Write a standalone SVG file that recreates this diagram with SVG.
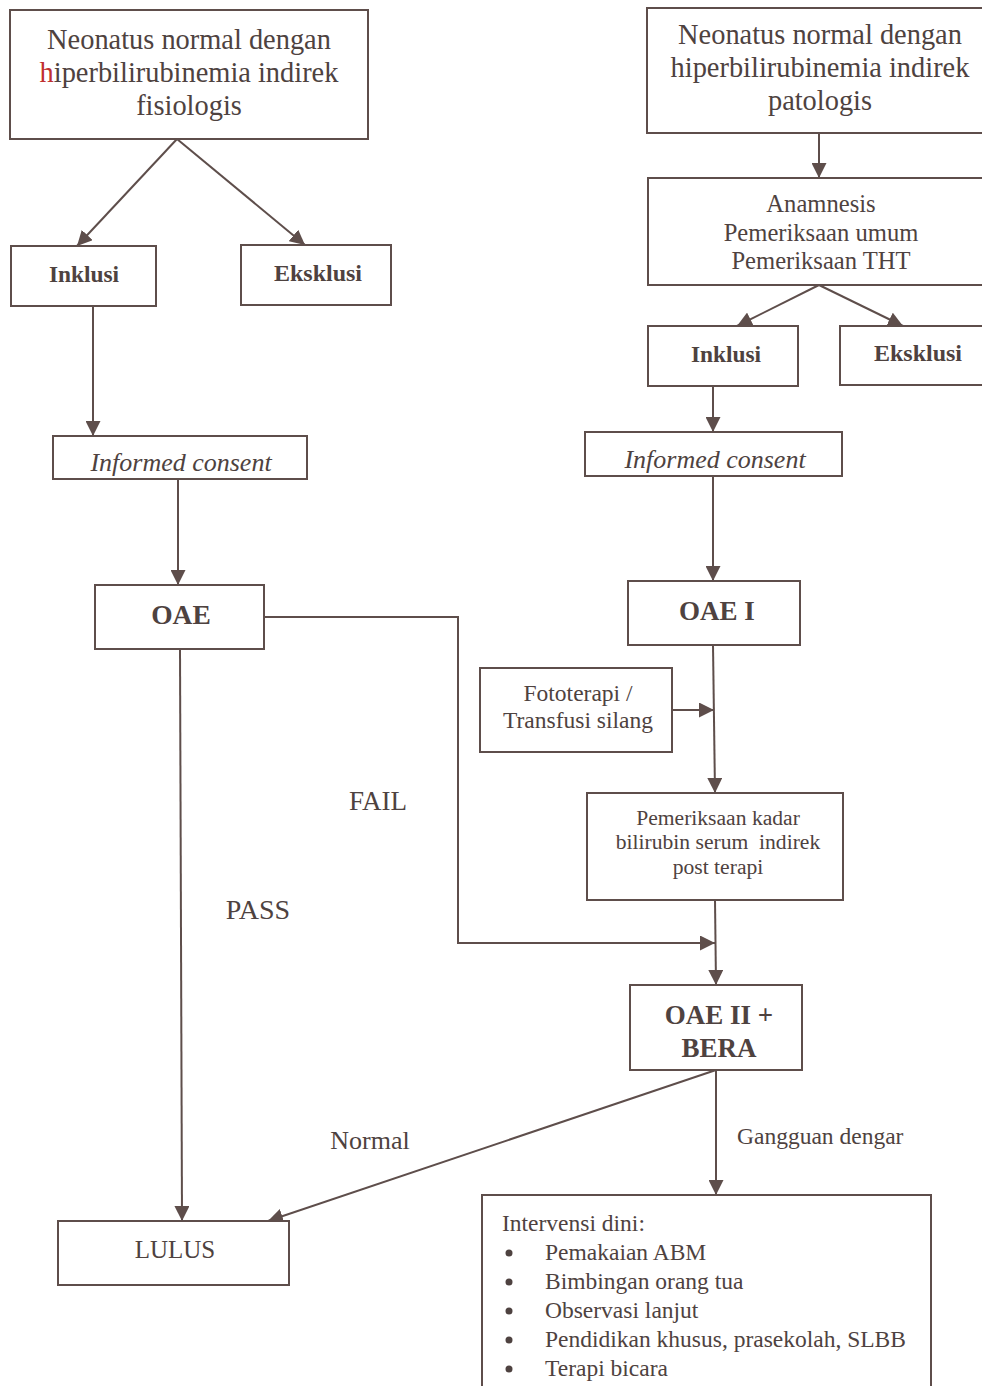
<svg xmlns="http://www.w3.org/2000/svg" width="982" height="1386" viewBox="0 0 982 1386">
<defs>
<style>
.box{fill:#fff;stroke:#5e4e4b;stroke-width:2}
.ln{fill:none;stroke:#5e4e4b;stroke-width:2}
text{font-family:"Liberation Serif","Times New Roman",serif;fill:#4e4240;text-anchor:middle}
.t28{font-size:28.4px}
.t24{font-size:24.6px}
.t23{font-size:23.5px}
.t21{font-size:21.6px}
.b{font-weight:bold}
.i{font-style:italic}
.l{text-anchor:start}
</style>
<marker id="ah2" viewBox="0 0 10 10" refX="10" refY="5" markerWidth="15" markerHeight="15" markerUnits="userSpaceOnUse" orient="auto">
<path d="M0,0 L10,5 L0,10 z" fill="#5e4e4b"/>
</marker>
</defs>
<rect width="982" height="1386" fill="#fff"/>

<g id="connectors">
<line class="ln" x1="177" y1="139" x2="77" y2="246" marker-end="url(#ah2)"/>
<line class="ln" x1="177" y1="139" x2="305" y2="245" marker-end="url(#ah2)"/>
<line class="ln" x1="93" y1="306" x2="93" y2="436" marker-end="url(#ah2)"/>
<line class="ln" x1="178" y1="479" x2="178" y2="585" marker-end="url(#ah2)"/>
<line class="ln" x1="180" y1="649" x2="182" y2="1221" marker-end="url(#ah2)"/>
<polyline class="ln" points="264,617 458,617 458,943 715,943" marker-end="url(#ah2)"/>
<line class="ln" x1="819" y1="133" x2="819" y2="178" marker-end="url(#ah2)"/>
<line class="ln" x1="819" y1="285" x2="737" y2="326" marker-end="url(#ah2)"/>
<line class="ln" x1="819" y1="285" x2="903" y2="326" marker-end="url(#ah2)"/>
<line class="ln" x1="713" y1="386" x2="713" y2="432" marker-end="url(#ah2)"/>
<line class="ln" x1="713" y1="476" x2="713" y2="581" marker-end="url(#ah2)"/>
<line class="ln" x1="713" y1="645" x2="715" y2="793" marker-end="url(#ah2)"/>
<line class="ln" x1="672" y1="710" x2="714" y2="710" marker-end="url(#ah2)"/>
<line class="ln" x1="715" y1="900" x2="716" y2="985" marker-end="url(#ah2)"/>
<line class="ln" x1="716" y1="1070" x2="268" y2="1221" marker-end="url(#ah2)"/>
<line class="ln" x1="716" y1="1070" x2="716" y2="1195" marker-end="url(#ah2)"/>
</g>

<g id="fisiologis">
<rect class="box" x="10" y="10" width="358" height="129"/>
<text class="t28" x="189" y="49">Neonatus normal dengan</text>
<text class="t28" x="189" y="82"><tspan fill="#c0302e">h</tspan>iperbilirubinemia indirek</text>
<text class="t28" x="189" y="115">fisiologis</text>
</g>
<g id="inklusi-l">
<rect class="box" x="11" y="246" width="145" height="60"/>
<text class="b" style="font-size:23.4px" x="84" y="282">Inklusi</text>
</g>
<g id="eksklusi-l">
<rect class="box" x="241" y="245" width="150" height="60"/>
<text class="b" style="font-size:24px" x="318" y="281">Eksklusi</text>
</g>
<g id="consent-l">
<rect class="box" x="53" y="436" width="254" height="43"/>
<text class="i" style="font-size:26px" x="181" y="471">Informed consent</text>
</g>
<g id="oae-l">
<rect class="box" x="95" y="585" width="169" height="64"/>
<text class="b" style="font-size:27.5px" x="181" y="624">OAE</text>
</g>
<g id="lulus">
<rect class="box" x="58" y="1221" width="231" height="64"/>
<text style="font-size:25px" x="175" y="1258">LULUS</text>
</g>

<g id="patologis">
<rect class="box" x="647" y="8" width="345" height="125"/>
<text class="t28" x="820" y="44">Neonatus normal dengan</text>
<text class="t28" x="820" y="77">hiperbilirubinemia indirek</text>
<text class="t28" x="820" y="110">patologis</text>
</g>
<g id="anamnesis">
<rect class="box" x="648" y="178" width="344" height="107"/>
<text class="t24" x="821" y="212">Anamnesis</text>
<text class="t24" x="821" y="241">Pemeriksaan umum</text>
<text class="t24" x="821" y="269">Pemeriksaan THT</text>
</g>
<g id="inklusi-r">
<rect class="box" x="648" y="326" width="150" height="60"/>
<text class="b" style="font-size:23.4px" x="726" y="362">Inklusi</text>
</g>
<g id="eksklusi-r">
<rect class="box" x="840" y="326" width="152" height="59"/>
<text class="b" style="font-size:24px" x="918" y="361">Eksklusi</text>
</g>
<g id="consent-r">
<rect class="box" x="585" y="432" width="257" height="44"/>
<text class="i" style="font-size:26px" x="715" y="468">Informed consent</text>
</g>
<g id="oae1">
<rect class="box" x="628" y="581" width="172" height="64"/>
<text class="b" style="font-size:27px" x="717" y="620">OAE I</text>
</g>
<g id="fototerapi">
<rect class="box" x="480" y="668" width="192" height="84"/>
<text class="t23" x="578" y="701">Fototerapi /</text>
<text class="t23" x="578" y="728">Transfusi silang</text>
</g>
<g id="kadar">
<rect class="box" x="587" y="793" width="256" height="107"/>
<text class="t21" x="718" y="825">Pemeriksaan kadar</text>
<text class="t21" x="718" y="849" xml:space="preserve">bilirubin serum  indirek</text>
<text class="t21" x="718" y="874">post terapi</text>
</g>
<g id="oae2">
<rect class="box" x="630" y="985" width="172" height="85"/>
<text class="b" style="font-size:27px" x="719" y="1024">OAE II +</text>
<text class="b" style="font-size:27px" x="719" y="1057">BERA</text>
</g>
<g id="intervensi">
<rect class="box" x="482" y="1195" width="449" height="200"/>
<text class="t23 l" x="502" y="1231">Intervensi dini:</text>
<g fill="#4e4240">
<circle cx="509" cy="1253" r="3.5"/>
<circle cx="509" cy="1282" r="3.5"/>
<circle cx="509" cy="1311" r="3.5"/>
<circle cx="509" cy="1340" r="3.5"/>
<circle cx="509" cy="1369" r="3.5"/>
</g>
<text class="t23 l" x="545" y="1260">Pemakaian ABM</text>
<text class="t23 l" x="545" y="1289">Bimbingan orang tua</text>
<text class="t23 l" x="545" y="1318">Observasi lanjut</text>
<text class="t23 l" x="545" y="1347">Pendidikan khusus, prasekolah, SLBB</text>
<text class="t23 l" x="545" y="1376">Terapi bicara</text>
</g>

<g id="labels">
<text style="font-size:27px" x="378" y="810">FAIL</text>
<text style="font-size:28px" x="258" y="919">PASS</text>
<text style="font-size:26px" x="370" y="1149">Normal</text>
<text class="t23 l" x="737" y="1144">Gangguan dengar</text>
</g>
</svg>
